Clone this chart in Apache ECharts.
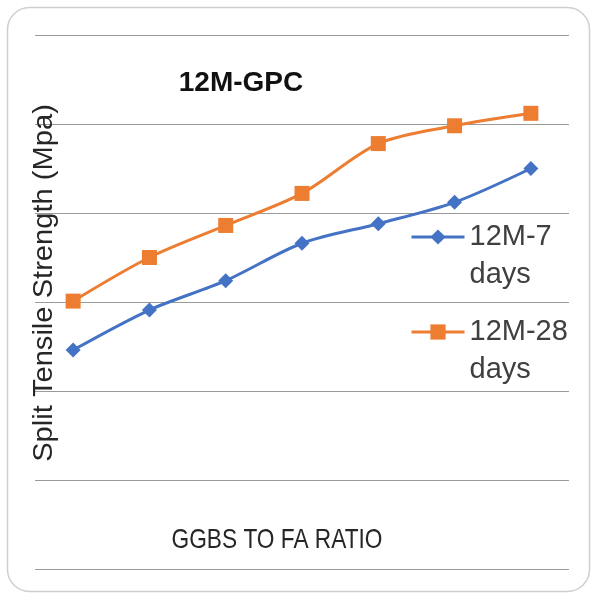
<!DOCTYPE html>
<html>
<head>
<meta charset="utf-8">
<script src="https://cdn.jsdelivr.net/npm/echarts@6/dist/echarts.min.js"></script>
<style>
html,body{margin:0;padding:0;background:#fff;}
#c{width:592px;height:595px;}
</style>
</head>
<body>
<div id="c"></div>
<script>
const categories = ['1', '2', '3', '4', '5', '6', '7'];
const series7 = [1.23, 1.455, 1.62, 1.83, 1.94, 2.06, 2.25];
const series28 = [1.505, 1.75, 1.93, 2.11, 2.39, 2.49, 2.56];
const seriesNames = ['12M-7 days', '12M-28 days'];
const chartTitle = '12M-GPC';
const xTitle = 'GGBS TO FA RATIO';
const yTitle = 'Split Tensile Strength (Mpa)';

const chart = echarts.init(document.getElementById('c'), null, {renderer: 'canvas'});
const legendText = {
  fontFamily: 'Liberation Sans, Arial, sans-serif',
  fontSize: 29,
  lineHeight: 38,
  color: '#404040'
};
function makeLegend(name, top) {
  return {
    data: [name], orient: 'vertical', left: 410, top: top, padding: 0,
    itemWidth: 53, itemHeight: 19,
    lineStyle: {width: 3},
    formatter: n => '\n' + n.replace(' ', '\n'),
    textStyle: legendText
  };
}
chart.setOption({
  animation: false,
  backgroundColor: '#fff',
  title: [
    {
      text: chartTitle,
      left: 236, top: 64, textAlign: 'center',
      textStyle: {fontFamily: 'Liberation Sans, Arial, sans-serif', fontSize: 28, fontWeight: 'bold', color: '#111'}
    }
  ],
  graphic: [
    {
      type: 'rect', silent: true, z: -10,
      shape: {x: 7.5, y: 7.5, width: 582, height: 584, r: 22},
      style: {fill: 'none', stroke: '#cfcfcf', lineWidth: 1.5}
    },
    {
      type: 'text', silent: true, z: 10,
      x: 44, y: 283, rotation: Math.PI / 2, scaleX: 1.04,
      style: {
        text: yTitle,
        fontFamily: 'Liberation Sans, Arial, sans-serif',
        fontSize: 28,
        fill: '#262626',
        align: 'center',
        verticalAlign: 'middle'
      }
    },
    {
      type: 'text', silent: true, z: 10,
      x: 277, y: 540, scaleX: 0.81,
      style: {
        text: xTitle,
        fontFamily: 'Liberation Sans, Arial, sans-serif',
        fontSize: 28,
        fill: '#262626',
        align: 'center',
        verticalAlign: 'middle'
      }
    }
  ],
  legend: [makeLegend(seriesNames[0], 180), makeLegend(seriesNames[1], 275)],
  grid: {left: 35, right: 23, top: 35, bottom: 26, containLabel: false},
  xAxis: {
    type: 'category', data: categories, boundaryGap: true,
    axisLine: {show: false}, axisTick: {show: false}, axisLabel: {show: false}, splitLine: {show: false}
  },
  yAxis: {
    type: 'value', min: 0, max: 3, interval: 0.5,
    axisLine: {show: false}, axisTick: {show: false}, axisLabel: {show: false},
    splitLine: {show: true, lineStyle: {color: '#9a9a9a', width: 1}}
  },
  series: [
    {
      name: seriesNames[0], type: 'line', data: series7, smooth: 0.3,
      symbol: 'diamond', symbolSize: 15,
      lineStyle: {color: '#4472C4', width: 3},
      itemStyle: {color: '#4472C4'}
    },
    {
      name: seriesNames[1], type: 'line', data: series28, smooth: 0.3,
      symbol: 'rect', symbolSize: 15,
      lineStyle: {color: '#ED7D31', width: 3},
      itemStyle: {color: '#ED7D31'}
    }
  ]
});
</script>
</body>
</html>
